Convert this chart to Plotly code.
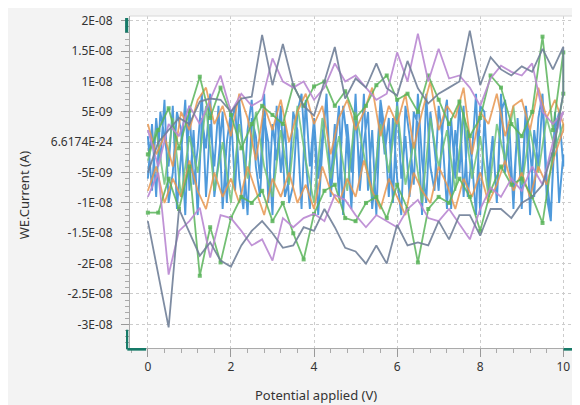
import plotly.graph_objects as go

# ---------------- data (current in nA, potential sweep 0 -> 10 V) ----------------
gray_fwd = [-13, -22, -30.5, -11, -15, -18.7, -16.5, -19.5, -20.5, -17, -14.6, -13, -15, -17.4, -17, -14,
            -14.6, -11, -14, -17.4, -18, -20, -17, -20, -13.6, -17, -16.5, -17, -13, -16, -12, -12,
            -15.4, -11, -11, -12.5, -10, -9, -7, -1.5, 8]
gray_rev = [-5, 0, 2, 4, 3, 6.7, 7.2, 7, 5, 7.2, 7.5, 17.7, 9.4, 16.2, 9.4, 6, 4.4, 10, 15.7, 7.2,
            10.5, 9, 13, 8.9, 7.7, 13.4, 8.9, 6.4, 8, 9, 10, 18.4, 9.4, 14, 12, 11, 12.5, 11.6,
            15.4, 12, 15.7]
purple_fwd = [-9, -5, -21.8, -14.6, -13, -10.8, -19, -12, -12.5, -14.6, -17, -16, -19.5, -12.5, -14,
              -12.5, -11.8, -13, -8.7, -9.5, -12, -14, -12, -13, -14, -11, -9.5, -12.5, -13, -11,
              -13.5, -16, -11, -7.5, -9, -6, -8, -4, -7, 0, 5]
purple_rev = [2, -4, 3, 1, 6, 3, 7, 11, 5, 8, 6, 7, 13.8, 10, 9, 10, 7, 9, 13, 10, 11, 9, 7, 8,
              14.8, 10, 17.9, 10, 15.4, 10.5, 11, 9, 6, 10.5, 12.6, 11.6, 11, 13, 5, 3, 5]
green_fwd = [-11.6, -11.6, -6, -11, -4, -22, -14, -19.8, -12.5, -9, -10, -8, -13, -10, -15, -19.3,
             -11.8, -8, -7, -12.5, -13, -10, -9, -12.5, -7, -11, -19.8, -11, -9, -10, -6, -9,
             -14.6, -8, -4, -7, -6, -9, -13.3, -2, 8]
green_rev = [-2, 2, 5.6, -1, 5.2, 10.8, 4, 9, 4.5, -1, 3, 6, 4.5, 3, 9.4, 6, 9.2, 10, 6, 8.4,
             4, 6, 9.4, 11, 7, 8, 5, 11, 7, 3, 6.7, 1, 4, 11, 9, 3, 1, 5, 17.4, 2, 14.8]
orange_fwd = [3, -2, 1, -4, 5, 2, 7, 9, 3, 6, 1, 8, 4, -3, 6, 2, 7, 0, 5, 8, 3, 6, -2, 4, 7, 2,
              5, 9, 1, 6, 3, 8, -1, 5, 10, 2, 6, 4, 9, -2, 5, 3, 8, 1, 6, 7, 2, 9, 4, 7, 3]
orange_rev = [-8, -4, -10, -6, -9, -3, -8, -11, -5, -9, -6, -10, -4, -8, -12, -6, -9, -5, -10, -7,
              -11, -4, -8, -10, -6, -9, -3, -8, -11, -6, -9, -12, -5, -8, -10, -4, -7, -11, -6,
              -9, -5, -10, -7, -3, -8, -5, -9, -4, -7, -2, 2]
lgreen = [-3, 2, -7, 4, -9, 1, -5, 6, -8, 0, -10, 3, -6, 5, -4, -9, 2, -7, 6, -3, -10, 4, -6,
          1, -8, 5, -2, -9, 3, -5, 6, -7, 0, -10, 4, -4, 2, -8, 5, -6, 1, -9, 3, -3, 6, -7, 2,
          -5, 4, -1, 3]
blue_fwd = [-6, 3, -9, 5, 1, -4, 6, -11, -2, 7, -8, 2, -12, 4, -1, 8, -9, -3, 5, -10,
            3, 6, -6, -11, 2, 7, -4, -9, 4, 0, -12, 6, -5, 3, -10, -7, 5, 8, -3, -11,
            4, -6, 1, 7, -9, -2, 6, -12, 3, -5, 8, -8, 0, 5, -11, -4, 7, 2, -9, 4,
            -6, -12, 6, 1, -7, 8, -3, -10, 5, -1, -8, 3, 7, -11, 2, -5, 6, -9, -2, 8,
            -12, 4, -6, 1, -10, 5, 7, -4, -8, 3, -11, 6, -1, -9, 4, 8, -6, -12, 2, 5, -4]
blue_rev = [1, -8, 4, -3, 7, -10, -5, 5, 2, -12, 6, -7, -1, 8, -9, 3, -4, 6, -11, 0,
            5, -8, 7, -2, -12, 4, 1, -6, 8, -10, 3, -3, 6, -9, -6, 5, 2, -11, 7, -4,
            4, -12, -1, 8, -7, 3, -9, 6, 0, -11, 5, -5, 8, -8, 2, -12, 6, -2, 4, -10,
            7, -6, 1, -9, 5, 3, -12, 8, -4, -8, 6, 0, -11, 4, -6, 7, -9, 2, -3, -12,
            6, 5, -8, 1, -10, 8, -5, 3, -11, 4, -7, 6, -12, 2, -4, 7, -9, -13, 5, -10, -2]

y_tickvals = [2e-8, 1.5e-8, 1e-8, 5e-9, 6.6174e-24, -5e-9, -1e-8, -1.5e-8, -2e-8, -2.5e-8, -3e-8]
y_ticktext = ["2E-08", "1.5E-08", "1E-08", "5E-09", "6.6174E-24", "-5E-09", "-1E-08",
              "-1.5E-08", "-2E-08", "-2.5E-08", "-3E-08"]
x_tickvals = [0, 2, 4, 6, 8, 10]


def sweep(n):
    return [10.0 * i / (n - 1) for i in range(n)]


def loop(fwd, rev):
    xf = sweep(len(fwd))
    xr = sweep(len(rev))
    x = xf + xr[::-1]
    y = [v * 1e-9 for v in fwd] + [v * 1e-9 for v in rev[::-1]]
    return x, y


fig = go.Figure()

xb, yb = loop(blue_fwd, blue_rev)
fig.add_trace(go.Scatter(x=xb, y=yb, mode="lines",
                         line=dict(color="rgba(60,143,215,0.9)", width=1.9),
                         showlegend=False, hoverinfo="skip"))

fig.add_trace(go.Scatter(x=sweep(len(lgreen)), y=[v * 1e-9 for v in lgreen], mode="lines",
                         line=dict(color="rgba(110,195,120,0.85)", width=1.8),
                         showlegend=False, hoverinfo="skip"))

series = [
    (orange_fwd, orange_rev, "rgba(232,150,80,0.85)", False),
    (green_fwd, green_rev, "rgba(90,180,90,0.85)", True),
    (purple_fwd, purple_rev, "rgba(185,135,210,0.9)", False),
    (gray_fwd, gray_rev, "rgba(112,128,152,0.9)", False),
]
for f, r, col, mk in series:
    x, y = loop(f, r)
    fig.add_trace(go.Scatter(x=x, y=y, mode="lines+markers" if mk else "lines",
                             line=dict(color=col, width=1.8),
                             marker=dict(size=4, symbol="square", color=col),
                             showlegend=False, hoverinfo="skip"))

teal = "#177a68"
shapes = [
    dict(type="rect", xref="paper", yref="paper", x0=-0.011, x1=-0.004, y0=0.95, y1=0.994,
         fillcolor=teal, line_width=0),
    dict(type="rect", xref="paper", yref="paper", x0=-0.009, x1=-0.004, y0=-0.004, y1=0.055,
         fillcolor=teal, line_width=0),
    dict(type="rect", xref="paper", yref="paper", x0=-0.006, x1=0.036, y0=-0.008, y1=0.0,
         fillcolor=teal, line_width=0),
    dict(type="rect", xref="paper", yref="paper", x0=0.97, x1=1.0, y0=-0.008, y1=0.0,
         fillcolor=teal, line_width=0),
    dict(type="line", xref="paper", yref="paper", x0=0, x1=1, y0=1, y1=1,
         line=dict(color="#d8d8d8", width=1)),
]

# the page body adds an 8px offset, so the figure is sized to fit the window
fig.update_layout(
    width=572, height=397,
    margin=dict(l=122, r=3, t=8, b=57),
    paper_bgcolor="#f3f3f3", plot_bgcolor="white",
    font=dict(family="Noto Sans, Open Sans, sans-serif", size=12, color="#333333"),
    shapes=shapes,
    xaxis=dict(range=[-0.43, 10.33], tickvals=x_tickvals, ticks="outside", ticklen=8,
               tickcolor="#999999", showline=True, linecolor="#aaaaaa", zeroline=False,
               showgrid=True, gridcolor="#cccccc", griddash="dot",
               minor=dict(dtick=0.4, tick0=0, ticks="outside", ticklen=4, tickcolor="#aaaaaa",
                          showgrid=False),
               tickfont=dict(size=12, color="#333333")),
    yaxis=dict(range=[-3.39e-8, 2.08e-8], tickvals=y_tickvals, ticktext=y_ticktext,
               ticks="outside", ticklen=8, tickcolor="#999999", showline=True,
               linecolor="#aaaaaa", zeroline=False, showgrid=True, gridcolor="#cccccc",
               griddash="dot", ticklabelstandoff=6,
               minor=dict(dtick=1e-9, tick0=0, ticks="outside", ticklen=4, tickcolor="#aaaaaa",
                          showgrid=False),
               tickfont=dict(size=12, color="#333333")),
    annotations=[
        dict(text="Potential applied (V)", xref="paper", yref="paper", x=(308 - 122) / 447,
             y=-0.142, showarrow=False, xanchor="center", yanchor="middle",
             font=dict(size=13, color="#333333")),
        dict(text="WE.Current (A)", xref="paper", yref="paper", x=-0.237, y=0.46,
             textangle=-90, showarrow=False, xanchor="center", yanchor="middle",
             font=dict(size=13, color="#333333")),
    ],
)

fig.write_html("out.html")
